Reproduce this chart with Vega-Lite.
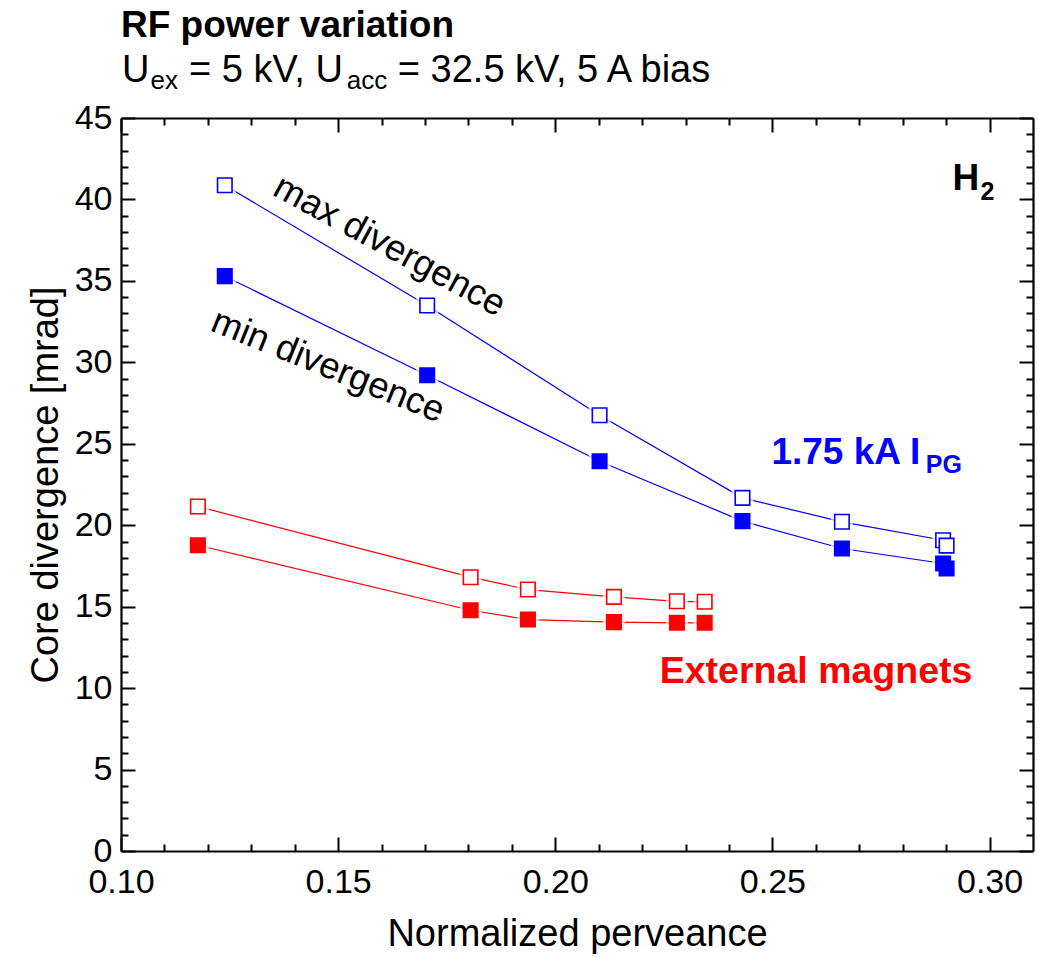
{
  "$schema": "https://vega.github.io/schema/vega-lite/v6.json",
  "width": 912,
  "height": 733,
  "autosize": "none",
  "padding": {"left": 121, "top": 118, "right": 5, "bottom": 106},
  "background": "white",
  "config": {
    "font": "Liberation Sans",
    "view": {"stroke": null},
    "axis": {
      "grid": false,
      "labelFlush": false,
      "labelOverlap": false,
      "tickColor": "black",
      "tickWidth": 2,
      "domainColor": "black",
      "domainWidth": 2.2,
      "labelColor": "black",
      "titleColor": "black",
      "labelFont": "Liberation Sans",
      "titleFont": "Liberation Sans",
      "titleFontWeight": "normal"
    }
  },
  "title": {
    "text": "RF power variation",
    "anchor": "start",
    "frame": "group",
    "font": "Liberation Sans",
    "fontSize": 37,
    "fontWeight": "bold",
    "color": "black",
    "baseline": "alphabetic",
    "offset": -22
  },
  "datasets": {
    "points": [
      {"s": "PG max", "x": 0.1239, "y": 40.87},
      {"s": "PG max", "x": 0.1705, "y": 33.49},
      {"s": "PG max", "x": 0.2102, "y": 26.75},
      {"s": "PG max", "x": 0.2431, "y": 21.68},
      {"s": "PG max", "x": 0.2660, "y": 20.21},
      {"s": "PG max", "x": 0.2893, "y": 19.08},
      {"s": "PG max", "x": 0.2901, "y": 18.75},
      {"s": "PG min", "x": 0.1239, "y": 35.29},
      {"s": "PG min", "x": 0.1705, "y": 29.21},
      {"s": "PG min", "x": 0.2102, "y": 23.93},
      {"s": "PG min", "x": 0.2431, "y": 20.25},
      {"s": "PG min", "x": 0.2660, "y": 18.57},
      {"s": "PG min", "x": 0.2893, "y": 17.65},
      {"s": "PG min", "x": 0.2901, "y": 17.34},
      {"s": "Ext max", "x": 0.1177, "y": 21.15},
      {"s": "Ext max", "x": 0.1805, "y": 16.81},
      {"s": "Ext max", "x": 0.1937, "y": 16.05},
      {"s": "Ext max", "x": 0.2135, "y": 15.60},
      {"s": "Ext max", "x": 0.2280, "y": 15.33},
      {"s": "Ext max", "x": 0.2344, "y": 15.30},
      {"s": "Ext min", "x": 0.1177, "y": 18.77},
      {"s": "Ext min", "x": 0.1805, "y": 14.78},
      {"s": "Ext min", "x": 0.1937, "y": 14.21},
      {"s": "Ext min", "x": 0.2135, "y": 14.05},
      {"s": "Ext min", "x": 0.2280, "y": 14.01},
      {"s": "Ext min", "x": 0.2344, "y": 14.01}
    ]
  },
  "resolve": {"axis": {"x": "independent", "y": "independent"}},
  "layer": [
    {
      "data": {"name": "points"},
      "mark": {"type": "line", "strokeWidth": 1.2},
      "encoding": {
        "x": {
          "field": "x", "type": "quantitative",
          "scale": {"domain": [0.1, 0.31], "nice": false, "zero": false},
          "axis": {
            "orient": "bottom",
            "values": [0.1, 0.15, 0.2, 0.25, 0.3],
            "format": ".2f",
            "tickSize": -14,
            "labelPadding": 28,
            "labelFontSize": 34,
            "title": "Normalized perveance",
            "titleFontSize": 38,
            "titlePadding": 16
          }
        },
        "y": {
          "field": "y", "type": "quantitative",
          "scale": {"domain": [0, 45], "nice": false, "zero": false},
          "axis": {
            "orient": "left",
            "values": [0, 5, 10, 15, 20, 25, 30, 35, 40, 45],
            "format": "d",
            "tickSize": -14,
            "labelPadding": 23,
            "labelFontSize": 34,
            "title": "Core divergence [mrad]",
            "titleFontSize": 38,
            "titlePadding": 9
          }
        },
        "stroke": {
          "field": "s", "type": "nominal",
          "scale": {"domain": ["PG max", "PG min", "Ext max", "Ext min"], "range": ["#0000ff", "#0000ff", "#ff0000", "#ff0000"]},
          "legend": null
        }
      }
    },
    {
      "data": {"name": "points"},
      "mark": {"type": "point", "shape": "square", "filled": true, "size": 484, "color": "white", "strokeWidth": 0},
      "encoding": {
        "x": {
          "field": "x", "type": "quantitative",
          "scale": {"domain": [0.1, 0.31], "nice": false, "zero": false},
          "axis": {"orient": "top", "values": [0.1, 0.15, 0.2, 0.25, 0.3], "tickSize": -14, "labels": false, "title": null}
        },
        "y": {
          "field": "y", "type": "quantitative",
          "scale": {"domain": [0, 45], "nice": false, "zero": false},
          "axis": {"orient": "right", "values": [0, 5, 10, 15, 20, 25, 30, 35, 40, 45], "tickSize": -14, "labels": false, "title": null}
        }
      }
    },
    {
      "data": {"name": "points"},
      "mark": {"type": "point", "shape": "square", "filled": true, "size": 210, "strokeWidth": 1.6, "opacity": 1},
      "encoding": {
        "x": {
          "field": "x", "type": "quantitative",
          "scale": {"domain": [0.1, 0.31], "nice": false, "zero": false},
          "axis": {"orient": "bottom", "values": [0.11, 0.12, 0.13, 0.14, 0.16, 0.17, 0.18, 0.19, 0.21, 0.22, 0.23, 0.24, 0.26, 0.27, 0.28, 0.29], "tickSize": -7, "labels": false, "domain": false, "title": null}
        },
        "y": {
          "field": "y", "type": "quantitative",
          "scale": {"domain": [0, 45], "nice": false, "zero": false},
          "axis": {"orient": "left", "values": [1, 2, 3, 4, 6, 7, 8, 9, 11, 12, 13, 14, 16, 17, 18, 19, 21, 22, 23, 24, 26, 27, 28, 29, 31, 32, 33, 34, 36, 37, 38, 39, 41, 42, 43, 44], "tickSize": -7, "labels": false, "domain": false, "title": null}
        },
        "stroke": {
          "field": "s", "type": "nominal",
          "scale": {"domain": ["PG max", "PG min", "Ext max", "Ext min"], "range": ["#0000ff", "#0000ff", "#ff0000", "#ff0000"]},
          "legend": null
        },
        "fill": {
          "field": "s", "type": "nominal",
          "scale": {"domain": ["PG max", "PG min", "Ext max", "Ext min"], "range": ["#ffffff", "#0000ff", "#ffffff", "#ff0000"]},
          "legend": null
        }
      }
    },
    {
      "data": {"values": [
        {"x": 0.10023, "y": 47.24, "text": "U"},
        {"x": 0.11565, "y": 47.24, "text": "= 5 kV, U"},
        {"x": 0.16375, "y": 47.24, "text": "= 32.5 kV, 5 A bias"}
      ]},
      "mark": {"type": "text", "align": "left", "baseline": "alphabetic", "fontSize": 38, "color": "black"},
      "encoding": {
        "x": {
          "field": "x", "type": "quantitative",
          "scale": {"domain": [0.1, 0.31], "nice": false, "zero": false},
          "axis": {"orient": "top", "values": [0.11, 0.12, 0.13, 0.14, 0.16, 0.17, 0.18, 0.19, 0.21, 0.22, 0.23, 0.24, 0.26, 0.27, 0.28, 0.29], "tickSize": -7, "labels": false, "domain": false, "title": null}
        },
        "y": {
          "field": "y", "type": "quantitative",
          "scale": {"domain": [0, 45], "nice": false, "zero": false},
          "axis": {"orient": "right", "values": [1, 2, 3, 4, 6, 7, 8, 9, 11, 12, 13, 14, 16, 17, 18, 19, 21, 22, 23, 24, 26, 27, 28, 29, 31, 32, 33, 34, 36, 37, 38, 39, 41, 42, 43, 44], "tickSize": -7, "labels": false, "domain": false, "title": null}
        },
        "text": {"field": "text"}
      }
    },
    {
      "data": {"values": [
        {"x": 0.10679, "y": 46.75, "text": "ex"},
        {"x": 0.15201, "y": 46.75, "text": "acc"}
      ]},
      "mark": {"type": "text", "align": "left", "baseline": "alphabetic", "fontSize": 26, "color": "black"},
      "encoding": {
        "x": {"field": "x", "type": "quantitative", "scale": {"domain": [0.1, 0.31], "nice": false, "zero": false}, "axis": null},
        "y": {"field": "y", "type": "quantitative", "scale": {"domain": [0, 45], "nice": false, "zero": false}, "axis": null},
        "text": {"field": "text"}
      }
    },
    {
      "data": {"values": [{"x": 0.1618, "y": 37.14, "text": "max divergence"}]},
      "mark": {"type": "text", "align": "center", "baseline": "middle", "fontSize": 36.5, "angle": 28.5, "color": "black"},
      "encoding": {
        "x": {"field": "x", "type": "quantitative", "scale": {"domain": [0.1, 0.31], "nice": false, "zero": false}, "axis": null},
        "y": {"field": "y", "type": "quantitative", "scale": {"domain": [0, 45], "nice": false, "zero": false}, "axis": null},
        "text": {"field": "text"}
      }
    },
    {
      "data": {"values": [{"x": 0.14764, "y": 29.76, "text": "min divergence"}]},
      "mark": {"type": "text", "align": "center", "baseline": "middle", "fontSize": 36.5, "angle": 22, "color": "black"},
      "encoding": {
        "x": {"field": "x", "type": "quantitative", "scale": {"domain": [0.1, 0.31], "nice": false, "zero": false}, "axis": null},
        "y": {"field": "y", "type": "quantitative", "scale": {"domain": [0, 45], "nice": false, "zero": false}, "axis": null},
        "text": {"field": "text"}
      }
    },
    {
      "data": {"values": [{"x": 0.29149, "y": 40.61, "text": "H"}]},
      "mark": {"type": "text", "align": "left", "baseline": "alphabetic", "fontSize": 37, "fontWeight": "bold", "color": "black"},
      "encoding": {
        "x": {"field": "x", "type": "quantitative", "scale": {"domain": [0.1, 0.31], "nice": false, "zero": false}, "axis": null},
        "y": {"field": "y", "type": "quantitative", "scale": {"domain": [0, 45], "nice": false, "zero": false}, "axis": null},
        "text": {"field": "text"}
      }
    },
    {
      "data": {"values": [{"x": 0.29793, "y": 39.99, "text": "2"}]},
      "mark": {"type": "text", "align": "left", "baseline": "alphabetic", "fontSize": 25, "fontWeight": "bold", "color": "black"},
      "encoding": {
        "x": {"field": "x", "type": "quantitative", "scale": {"domain": [0.1, 0.31], "nice": false, "zero": false}, "axis": null},
        "y": {"field": "y", "type": "quantitative", "scale": {"domain": [0, 45], "nice": false, "zero": false}, "axis": null},
        "text": {"field": "text"}
      }
    },
    {
      "data": {"values": [{"x": 0.24976, "y": 23.73, "text": "1.75 kA I"}]},
      "mark": {"type": "text", "align": "left", "baseline": "alphabetic", "fontSize": 37, "fontWeight": "bold", "color": "#0000ff"},
      "encoding": {
        "x": {"field": "x", "type": "quantitative", "scale": {"domain": [0.1, 0.31], "nice": false, "zero": false}, "axis": null},
        "y": {"field": "y", "type": "quantitative", "scale": {"domain": [0, 45], "nice": false, "zero": false}, "axis": null},
        "text": {"field": "text"}
      }
    },
    {
      "data": {"values": [{"x": 0.2853, "y": 23.22, "text": "PG"}]},
      "mark": {"type": "text", "align": "left", "baseline": "alphabetic", "fontSize": 25, "fontWeight": "bold", "color": "#0000ff"},
      "encoding": {
        "x": {"field": "x", "type": "quantitative", "scale": {"domain": [0.1, 0.31], "nice": false, "zero": false}, "axis": null},
        "y": {"field": "y", "type": "quantitative", "scale": {"domain": [0, 45], "nice": false, "zero": false}, "axis": null},
        "text": {"field": "text"}
      }
    },
    {
      "data": {"values": [{"x": 0.22405, "y": 10.34, "text": "External magnets"}]},
      "mark": {"type": "text", "align": "left", "baseline": "alphabetic", "fontSize": 37.5, "fontWeight": "bold", "color": "#ff0000"},
      "encoding": {
        "x": {"field": "x", "type": "quantitative", "scale": {"domain": [0.1, 0.31], "nice": false, "zero": false}, "axis": null},
        "y": {"field": "y", "type": "quantitative", "scale": {"domain": [0, 45], "nice": false, "zero": false}, "axis": null},
        "text": {"field": "text"}
      }
    }
  ]
}
